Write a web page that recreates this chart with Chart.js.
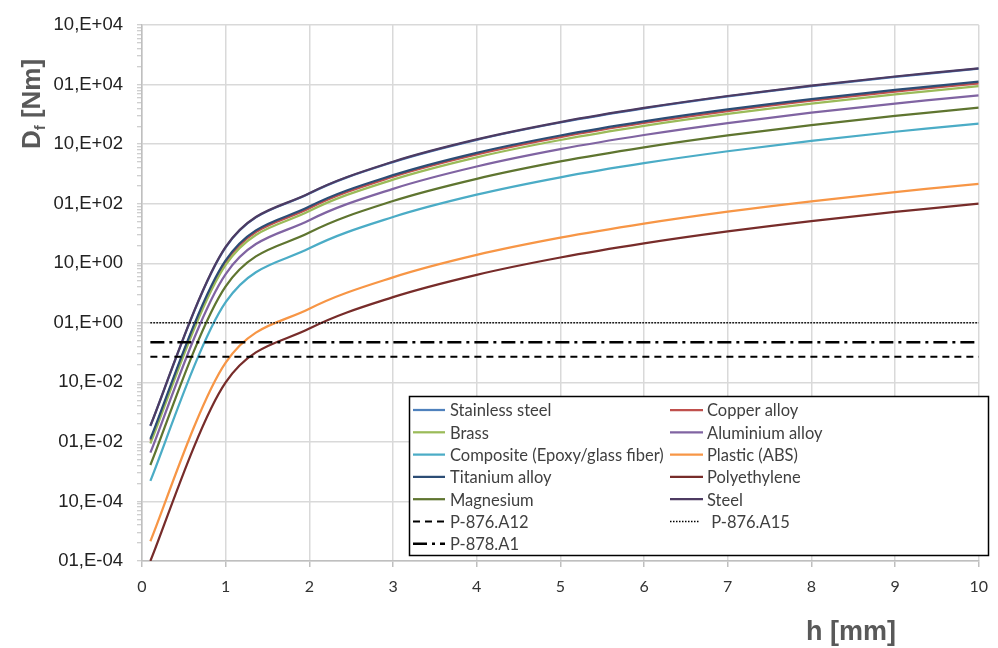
<!DOCTYPE html>
<html><head><meta charset="utf-8">
<script src="https://cdn.jsdelivr.net/npm/chart.js@4/dist/chart.umd.min.js"></script>
<style>html,body{margin:0;padding:0;background:#fff}</style>
</head><body>
<canvas id="c" width="998" height="648"></canvas>
<script>
// ---- data ----
const hValues = [0.1, 1, 2, 3, 4, 5, 6, 7, 8, 9, 10];
const stainlessSteel = [0.0185, 18.5, 148, 500, 1184, 2313, 3996, 6346, 9472, 13487, 18500];
const copperAlloy    = [0.0105, 10.5, 84, 284, 672, 1313, 2268, 3602, 5376, 7655, 10500];
const brass          = [0.0094, 9.4, 75.2, 254, 602, 1175, 2030, 3224, 4813, 6853, 9400];
const aluminiumAlloy = [0.0066, 6.6, 52.8, 178, 422, 825, 1426, 2264, 3379, 4811, 6600];
const composite      = [0.00222, 2.22, 17.8, 59.9, 142, 278, 480, 761, 1137, 1618, 2220];
const plasticABS     = [0.000215, 0.215, 1.72, 5.8, 13.8, 26.9, 46.4, 73.7, 110, 157, 215];
const titaniumAlloy  = [0.0112, 11.2, 89.6, 302, 717, 1400, 2419, 3842, 5734, 8165, 11200];
const polyethylene   = [0.0001, 0.1, 0.8, 2.7, 6.4, 12.5, 21.6, 34.3, 51.2, 72.9, 100];
const magnesium      = [0.0041, 4.1, 32.8, 111, 262, 513, 886, 1406, 2099, 2989, 4100];
const steel          = [0.0188, 18.8, 150, 508, 1203, 2350, 4061, 6448, 9626, 13705, 18800];

const materialNames = ['Stainless steel', 'Copper alloy', 'Brass', 'Aluminium alloy',
  'Composite (Epoxy/glass fiber)', 'Plastic (ABS)', 'Titanium alloy', 'Polyethylene', 'Magnesium', 'Steel'];
const materialValues = [stainlessSteel, copperAlloy, brass, aluminiumAlloy, composite,
  plasticABS, titaniumAlloy, polyethylene, magnesium, steel];

const limitNames = ['P-876.A12', ' P-876.A15', 'P-878.A1'];
const limitValues = [0.27, 1.0, 0.47];
const limitRange = [0.1, 10];

const yTickValues = [1e-4, 1e-3, 1e-2, 1e-1, 1e0, 1e1, 1e2, 1e3, 1e4, 1e5];
const yTickLabels = ['01,E-04', '10,E-04', '01,E-02', '10,E-02', '01,E+00', '10,E+00',
  '01,E+02', '10,E+02', '01,E+04', '10,E+04'];
const xTickLabels = ['0','1','2','3','4','5','6','7','8','9','10'];

// ---- styles ----
const materialColors = ['#4F81BD', '#C0504D', '#9BBB59', '#8064A2', '#4BACC6',
  '#F79646', '#2C4D75', '#772C2A', '#5F7530', '#4D3B62'];
const limitStyles = [
  {dash: [7, 5], width: 2},
  {dash: [1.5, 1.5], width: 1.5},
  {dash: [14, 5, 3, 5], width: 2.5}
];

const datasets = [];
materialNames.forEach((name, i) => {
  datasets.push({
    label: name,
    data: hValues.map((h, j) => ({x: h, y: materialValues[i][j]})),
    borderColor: materialColors[i],
    backgroundColor: materialColors[i],
    borderWidth: 2.25,
    pointRadius: 0,
    tension: 0.4,
    fill: false,
    order: 100 - i
  });
});
limitNames.forEach((name, i) => {
  datasets.push({
    label: name,
    data: limitRange.map(h => ({x: h, y: limitValues[i]})),
    borderColor: '#000',
    backgroundColor: '#000',
    borderWidth: limitStyles[i].width,
    borderDash: limitStyles[i].dash,
    pointRadius: 0,
    tension: 0,
    fill: false,
    order: 10 - i
  });
});

// Excel-like smoothing: control points at P +/- (Pnext - Pprev)/6
const excelSmooth = {
  id: 'excelSmooth',
  beforeDatasetsDraw(chart) {
    chart.getSortedVisibleDatasetMetas().forEach(meta => {
      const line = meta.dataset;
      if (!line || !line.options.tension) return;
      line.updateControlPoints(chart.chartArea, meta.iScale.axis);
      const pts = meta.data;
      for (let i = 0; i < pts.length; i++) {
        const p = pts[i], pr = pts[i - 1] || p, nx = pts[i + 1] || p;
        const dx = (nx.x - pr.x) / 6, dy = (nx.y - pr.y) / 6;
        p.cp1x = p.x - dx; p.cp1y = p.y - dy;
        p.cp2x = p.x + dx; p.cp2y = p.y + dy;
      }
    });
  }
};

const extras = {
  id: 'extras',
  afterDraw(chart) {
    const ctx = chart.ctx;
    ctx.save();
    // legend box
    const bx = 409, by = 396, bw = 579, bh = 159;
    ctx.fillStyle = '#fff';
    ctx.fillRect(bx, by, bw, bh);
    ctx.strokeStyle = '#000';
    ctx.lineWidth = 1.5;
    ctx.strokeRect(bx + 0.5, by + 0.5, bw, bh);
    ctx.font = '16.5px Lato';
    ctx.textBaseline = 'middle';
    ctx.textAlign = 'left';
    chart.data.datasets.forEach((ds, i) => {
      const col = i % 2, row = Math.floor(i / 2);
      const y = 410 + row * 22.3;
      const x0 = col === 0 ? 413 : 670;
      const x1 = col === 0 ? 445 : (ds.borderDash && ds.borderDash[0] < 3 ? 700 : 703);
      const tx = col === 0 ? 450 : 707;
      ctx.beginPath();
      ctx.strokeStyle = ds.borderColor;
      ctx.lineWidth = ds.borderWidth;
      ctx.setLineDash(ds.borderDash || []);
      ctx.moveTo(x0, y);
      ctx.lineTo(x1, y);
      ctx.stroke();
      ctx.setLineDash([]);
      ctx.fillStyle = '#404040';
      ctx.fillText(ds.label, tx, y + 1);
    });
    // x title
    ctx.fillStyle = '#595959';
    ctx.font = 'bold 27px "Liberation Sans"';
    ctx.textAlign = 'center';
    ctx.textBaseline = 'alphabetic';
    ctx.fillText('h [mm]', 851, 640);
    // y title with subscript
    ctx.translate(40, 104);
    ctx.rotate(-Math.PI / 2);
    const fBig = 'bold 26px "Liberation Sans"', fSmall = 'bold 15px "Liberation Sans"';
    ctx.font = fBig; const wD = ctx.measureText('D').width; const wR = ctx.measureText(' [Nm]').width;
    ctx.font = fSmall; const wF = ctx.measureText('f').width;
    let x = -(wD + wF + wR) / 2;
    ctx.textAlign = 'left';
    ctx.font = fBig; ctx.fillText('D', x, 0); x += wD;
    ctx.font = fSmall; ctx.fillText('f', x, 5); x += wF;
    ctx.font = fBig; ctx.fillText(' [Nm]', x, 0);
    ctx.restore();
  }
};

new Chart(document.getElementById('c'), {
  type: 'line',
  data: {datasets},
  options: {
    responsive: false,
    animation: false,
    devicePixelRatio: 1,
    layout: {padding: {top: 20, right: 18, left: 0, bottom: 0}},
    plugins: {legend: {display: false}, tooltip: {enabled: false}},
    scales: {
      x: {
        type: 'linear', min: 0, max: 10,
        ticks: {stepSize: 1, autoSkip: false, padding: 10,
          font: {family: 'Lato', size: 16}, color: '#333',
          callback: (v) => xTickLabels[Math.round(v)] ?? ''},
        grid: {color: '#D9D9D9', lineWidth: 1.5, tickLength: 6, tickColor: '#BFBFBF', tickWidth: 1.5},
        border: {color: '#BFBFBF', width: 1.5},
        afterFit: (s) => { s.height = 87; }
      },
      y: {
        type: 'logarithmic', min: 1e-4, max: 1e5,
        afterBuildTicks: (s) => {
          const t = [];
          yTickValues.forEach((d, i) => {
            t.push({value: d, major: true});
            if (i < yTickValues.length - 1) for (let k = 2; k <= 9; k++) t.push({value: d * k, major: false});
          });
          s.ticks = t;
        },
        ticks: {autoSkip: false, padding: 14,
          font: {family: 'Liberation Sans', size: 18.5}, color: '#222',
          callback: (v) => { const i = yTickValues.findIndex(d => Math.abs(d - v) / d < 1e-6); return i >= 0 ? yTickLabels[i] : ''; }},
        grid: {color: (c) => (c.tick && c.tick.major) ? '#D9D9D9' : 'rgba(0,0,0,0)',
          lineWidth: 1.5, tickLength: 5, tickColor: '#BFBFBF', tickWidth: 1},
        border: {color: '#BFBFBF', width: 1.5},
        afterFit: (s) => { s.width = 142; }
      }
    }
  },
  plugins: [excelSmooth, extras]
});
</script>
</body></html>
